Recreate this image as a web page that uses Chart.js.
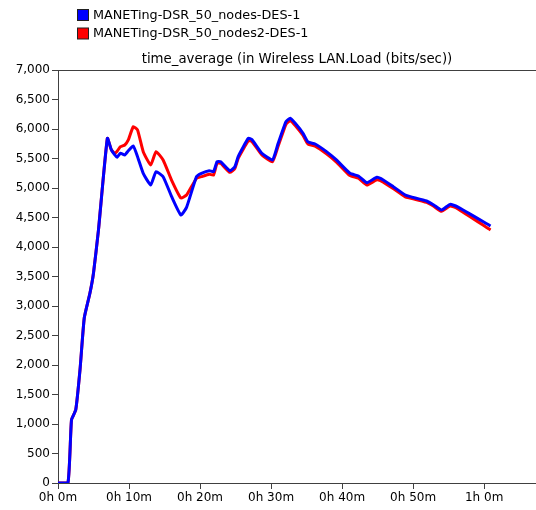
<!DOCTYPE html>
<html>
<head>
<meta charset="utf-8">
<title>time_average (in Wireless LAN.Load (bits/sec))</title>
<script src="https://cdn.jsdelivr.net/npm/chart.js@4/dist/chart.umd.min.js"></script>
<style>
  html, body { margin: 0; padding: 0; background: #ffffff; }
  #wrap { width: 536px; height: 510px; }
</style>
</head>
<body>
<div id="wrap"><canvas id="chart" width="536" height="510"></canvas></div>
<script>
// Simulation time (minutes) at which the load was sampled
const simMinutes = [
  0, 1.4, 1.9, 2.5, 3.1, 3.7, 4.5, 5.0, 5.7, 6.95, 7.5, 8.0, 8.3, 8.8, 9.4, 9.9,
  10.6, 11.2, 12.0, 13.05, 13.8, 14.8, 16.0, 17.3, 18.1, 19.5, 20.2, 21.3, 21.9,
  22.4, 22.9, 24.2, 24.9, 25.4, 26.8, 27.3, 28.7, 30.2, 31.0, 32.1, 32.7, 33.4,
  34.5, 35.2, 36.2, 37.8, 39.2, 41.1, 42.3, 43.5, 44.9, 45.8, 47.2, 48.9, 49.6,
  51.9, 52.9, 54.0, 55.2, 56.2, 60.9
];

// Wireless LAN load, time-averaged (bits/sec)
const loadNodes = [
  0, 0, 1070, 1240, 1920, 2800, 3220, 3560, 4290, 5842, 5650, 5560, 5520, 5590, 5560, 5630,
  5712, 5530, 5249, 5051, 5277, 5192, 4853, 4542, 4672, 5192, 5249, 5293, 5277,
  5446, 5446, 5293, 5361, 5542, 5842, 5820, 5588, 5475, 5757, 6124, 6181, 6096,
  5927, 5780, 5746, 5616, 5475, 5249, 5203, 5090, 5181, 5136, 5023, 4881, 4853,
  4780, 4712, 4627, 4723, 4684, 4356
];

const loadNodes2 = [
  0, 0, 1070, 1240, 1920, 2800, 3220, 3560, 4290, 5842, 5650, 5588, 5620, 5700, 5729, 5814,
  6040, 5983, 5616, 5390, 5616, 5475, 5130, 4830, 4881, 5164, 5192, 5232, 5220,
  5418, 5418, 5265, 5330, 5510, 5800, 5790, 5560, 5445, 5710, 6080, 6141, 6060,
  5890, 5745, 5710, 5580, 5440, 5210, 5165, 5050, 5140, 5100, 4990, 4850, 4830,
  4755, 4690, 4605, 4695, 4655, 4288
];

const seriesNames = ['MANETing-DSR_50_nodes-DES-1', 'MANETing-DSR_50_nodes2-DES-1'];
const seriesColors = ['#0000ff', '#ff0000'];
const chartTitle = 'time_average (in Wireless LAN.Load (bits/sec))';

const FONT = '"DejaVu Sans", Verdana, sans-serif';
const AXIS_COLOR = '#404040';

function toPoints(xs, ys) {
  return xs.map((x, i) => ({ x: x, y: ys[i] }));
}

// Title, legend and the top frame line
const decorations = {
  id: 'decorations',
  afterDraw(chart) {
    const ctx = chart.ctx;
    const area = chart.chartArea;
    ctx.save();

    // top frame line
    ctx.strokeStyle = AXIS_COLOR;
    ctx.lineWidth = 1;
    ctx.beginPath();
    ctx.moveTo(area.left, area.top + 0.5);
    ctx.lineTo(chart.width, area.top + 0.5);
    ctx.stroke();

    // title
    ctx.fillStyle = '#000000';
    ctx.font = '13.3px ' + FONT;
    ctx.textAlign = 'center';
    ctx.textBaseline = 'alphabetic';
    ctx.fillText(chartTitle, (area.left + chart.width) / 2, 63);

    // legend
    ctx.font = '12.8px ' + FONT;
    ctx.textAlign = 'left';
    ctx.textBaseline = 'middle';
    chart.data.datasets.forEach((ds, i) => {
      const cy = 15 + i * 18.5;
      ctx.fillStyle = ds.borderColor;
      ctx.fillRect(77.5, cy - 5.5, 11, 11);
      ctx.strokeStyle = '#202020';
      ctx.lineWidth = 1;
      ctx.strokeRect(77.5, cy - 5.5, 11, 11);
      ctx.fillStyle = '#000000';
      ctx.fillText(ds.label, 93, cy + 0.5);
    });
    ctx.restore();
  }
};

new Chart(document.getElementById('chart'), {
  type: 'line',
  data: {
    datasets: [
      {
        label: seriesNames[0],
        data: toPoints(simMinutes, loadNodes),
        borderColor: seriesColors[0],
        backgroundColor: seriesColors[0],
        borderWidth: 3,
        pointRadius: 0,
        tension: 0.15,
        fill: false
      },
      {
        label: seriesNames[1],
        data: toPoints(simMinutes, loadNodes2),
        borderColor: seriesColors[1],
        backgroundColor: seriesColors[1],
        borderWidth: 3,
        pointRadius: 0,
        tension: 0.15,
        fill: false
      }
    ]
  },
  options: {
    responsive: false,
    animation: false,
    devicePixelRatio: 1,
    layout: { padding: { top: 70, right: 0, left: 0, bottom: 0 } },
    plugins: {
      legend: { display: false },
      title: { display: false },
      tooltip: { enabled: false }
    },
    scales: {
      x: {
        type: 'linear',
        min: 0,
        max: 67.3,
        afterFit(scale) { scale.height = 27; },
        border: { display: true, color: AXIS_COLOR, width: 1 },
        grid: { drawOnChartArea: false, drawTicks: true, tickLength: 6, color: AXIS_COLOR },
        ticks: {
          stepSize: 10,
          includeBounds: false,
          maxRotation: 0,
          padding: 2,
          color: '#000000',
          font: { family: FONT, size: 12 },
          callback: (v) => Math.floor(v / 60) + 'h ' + (v % 60) + 'm'
        }
      },
      y: {
        min: 0,
        max: 7000,
        afterFit(scale) { scale.width = 58; },
        border: { display: true, color: AXIS_COLOR, width: 1 },
        grid: { drawOnChartArea: false, drawTicks: true, tickLength: 6, color: AXIS_COLOR },
        ticks: {
          stepSize: 500,
          padding: 2,
          color: '#000000',
          font: { family: FONT, size: 12 },
          callback: (v) => v.toLocaleString('en-US')
        }
      }
    }
  },
  plugins: [decorations]
});
</script>
</body>
</html>
